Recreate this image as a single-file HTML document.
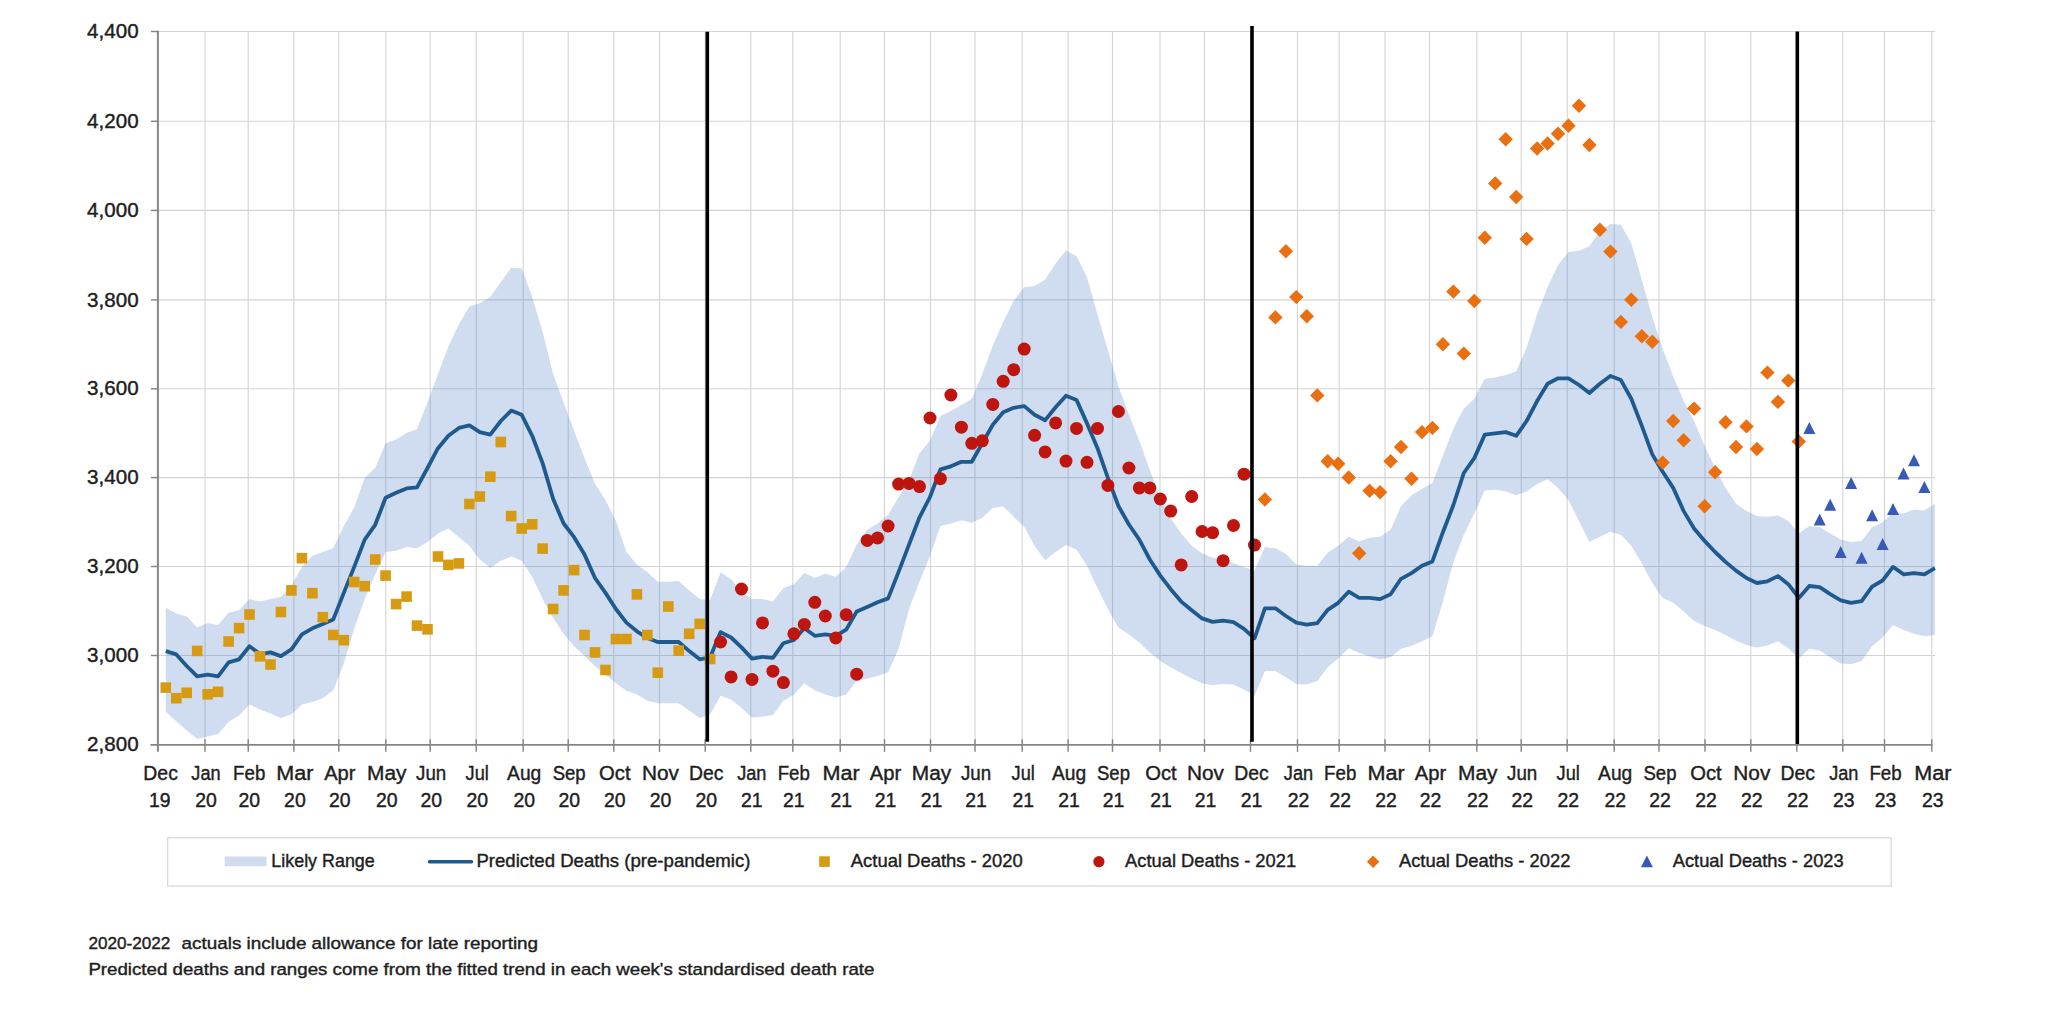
<!DOCTYPE html>
<html lang="en"><head><meta charset="utf-8"><title>Weekly deaths: actual vs predicted</title>
<style>html,body{margin:0;padding:0;background:#fff}body{width:2048px;height:1009px;overflow:hidden}svg{display:block}text{font-family:"Liberation Sans",sans-serif;fill:#1e1e1e;stroke:#1e1e1e;stroke-width:0.4px}</style></head><body>
<svg width="2048" height="1009" viewBox="0 0 2048 1009">
<rect width="2048" height="1009" fill="#fff"/>
<g stroke="#d3d3d3" stroke-width="1.1" fill="none">
<line x1="157.9" y1="31.5" x2="1935.3" y2="31.5"/>
<line x1="157.9" y1="121.3" x2="1935.3" y2="121.3"/>
<line x1="157.9" y1="210.4" x2="1935.3" y2="210.4"/>
<line x1="157.9" y1="299.9" x2="1935.3" y2="299.9"/>
<line x1="157.9" y1="388.8" x2="1935.3" y2="388.8"/>
<line x1="157.9" y1="477.6" x2="1935.3" y2="477.6"/>
<line x1="157.9" y1="566.5" x2="1935.3" y2="566.5"/>
<line x1="157.9" y1="655.5" x2="1935.3" y2="655.5"/>
<line x1="205" y1="31.5" x2="205" y2="744.8"/>
<line x1="248.2" y1="31.5" x2="248.2" y2="744.8"/>
<line x1="293.9" y1="31.5" x2="293.9" y2="744.8"/>
<line x1="338.8" y1="31.5" x2="338.8" y2="744.8"/>
<line x1="385.8" y1="31.5" x2="385.8" y2="744.8"/>
<line x1="430.2" y1="31.5" x2="430.2" y2="744.8"/>
<line x1="476.2" y1="31.5" x2="476.2" y2="744.8"/>
<line x1="523.2" y1="31.5" x2="523.2" y2="744.8"/>
<line x1="568.2" y1="31.5" x2="568.2" y2="744.8"/>
<line x1="613.8" y1="31.5" x2="613.8" y2="744.8"/>
<line x1="659.5" y1="31.5" x2="659.5" y2="744.8"/>
<line x1="705.2" y1="31.5" x2="705.2" y2="744.8"/>
<line x1="750.8" y1="31.5" x2="750.8" y2="744.8"/>
<line x1="792.8" y1="31.5" x2="792.8" y2="744.8"/>
<line x1="840.2" y1="31.5" x2="840.2" y2="744.8"/>
<line x1="884.5" y1="31.5" x2="884.5" y2="744.8"/>
<line x1="930.5" y1="31.5" x2="930.5" y2="744.8"/>
<line x1="975" y1="31.5" x2="975" y2="744.8"/>
<line x1="1022.2" y1="31.5" x2="1022.2" y2="744.8"/>
<line x1="1068.1" y1="31.5" x2="1068.1" y2="744.8"/>
<line x1="1112.5" y1="31.5" x2="1112.5" y2="744.8"/>
<line x1="1160" y1="31.5" x2="1160" y2="744.8"/>
<line x1="1204.5" y1="31.5" x2="1204.5" y2="744.8"/>
<line x1="1250.5" y1="31.5" x2="1250.5" y2="744.8"/>
<line x1="1297.5" y1="31.5" x2="1297.5" y2="744.8"/>
<line x1="1339.2" y1="31.5" x2="1339.2" y2="744.8"/>
<line x1="1385" y1="31.5" x2="1385" y2="744.8"/>
<line x1="1429.5" y1="31.5" x2="1429.5" y2="744.8"/>
<line x1="1476.8" y1="31.5" x2="1476.8" y2="744.8"/>
<line x1="1521.2" y1="31.5" x2="1521.2" y2="744.8"/>
<line x1="1567.2" y1="31.5" x2="1567.2" y2="744.8"/>
<line x1="1614.2" y1="31.5" x2="1614.2" y2="744.8"/>
<line x1="1659" y1="31.5" x2="1659" y2="744.8"/>
<line x1="1705" y1="31.5" x2="1705" y2="744.8"/>
<line x1="1750.8" y1="31.5" x2="1750.8" y2="744.8"/>
<line x1="1796.8" y1="31.5" x2="1796.8" y2="744.8"/>
<line x1="1842.8" y1="31.5" x2="1842.8" y2="744.8"/>
<line x1="1884.5" y1="31.5" x2="1884.5" y2="744.8"/>
<line x1="1931.8" y1="31.5" x2="1931.8" y2="744.8"/>
</g>
<polygon points="165.8,607.8 176.3,613.5 186.7,616.5 197.2,627.6 207.7,623.1 218.1,625.1 228.6,612.7 239.1,610.3 249.5,599.1 260,601.6 270.5,599.1 280.9,597.1 291.4,585.5 301.9,566.9 312.4,555.8 322.8,552 333.3,548.3 343.8,526 354.2,507.4 364.7,478 375.2,468 385.6,443.3 396.1,439.5 406.6,432.9 417,428.9 427.5,402.4 438,373.9 448.4,346.6 458.9,324.3 469.4,306.5 479.8,303.3 490.3,297.1 500.8,282.2 511.2,267.8 521.7,268.6 532.2,297.1 542.6,331.8 553.1,373.9 563.6,402.4 574.1,430.9 584.5,458.1 595,484.1 605.5,500 615.9,521.1 626.4,552 636.9,564.4 647.3,572.1 657.8,581.8 668.3,581.8 678.7,581 689.2,590.4 699.7,599.1 710.1,600.3 720.6,572.3 731.1,579.3 741.5,591.7 752,599.1 762.5,599.1 772.9,601.6 783.4,588 793.9,584.2 804.3,573.1 814.8,578 825.3,573.8 835.8,576.8 846.2,566.9 856.7,544.6 867.2,529.7 877.6,523.5 888.1,514.9 898.6,497 909,480.4 919.5,453.2 930,440.8 940.4,416 950.9,411 961.4,404.9 971.8,398.7 982.3,373.9 992.8,345.4 1003.2,321.9 1013.7,300.8 1024.2,287.2 1034.6,285.9 1045.1,279.7 1055.6,263.6 1066,250.5 1076.5,256.2 1087,277.3 1097.5,314.4 1107.9,350.3 1118.4,386.3 1128.9,414.8 1139.3,440.8 1149.8,470 1160.3,497 1170.7,518.6 1181.2,533.4 1191.7,545.8 1202.1,553.3 1212.6,557.7 1223.1,559.5 1233.5,563.2 1244,566.9 1254.5,570.6 1264.9,547.1 1275.4,548.3 1285.9,554 1296.3,564.4 1306.8,565.7 1317.3,565.7 1327.7,552.8 1338.2,545.8 1348.7,536.7 1359.2,541.6 1369.6,537.7 1380.1,536.7 1390.6,529.7 1401,506.2 1411.5,495.3 1422,489.1 1432.4,482.9 1442.9,455.7 1453.4,428.4 1463.8,408.6 1474.3,398.7 1484.8,378.8 1495.2,377.6 1505.7,375.1 1516.2,371.4 1526.6,347.9 1537.1,314.4 1547.6,287.2 1558,265 1568.5,252 1579,250.8 1589.4,246.3 1599.9,231 1610.4,224 1620.9,224.8 1631.3,243.3 1641.8,280 1652.3,316.9 1662.7,349.1 1673.2,376.4 1683.7,401.1 1694.1,421 1704.6,445.7 1715.1,468 1725.5,487.9 1736,503.7 1746.5,511.1 1756.9,516.1 1767.4,516.8 1777.9,515.4 1788.3,521.1 1798.8,533.4 1809.3,526 1819.7,527.3 1830.2,533.4 1840.7,539.6 1851.1,542.1 1861.6,540.9 1872.1,527.3 1882.6,522.3 1893,512.4 1903.5,513.6 1914,509.4 1924.4,510.4 1934.9,503.7 1934.9,635 1924.4,636.3 1914,633.8 1903.5,630.1 1893,625.1 1882.6,637.5 1872.1,646.2 1861.6,661.1 1851.1,664 1840.7,663.5 1830.2,657.3 1819.7,650.6 1809.3,648.7 1798.8,658.6 1788.3,648.2 1777.9,641.2 1767.4,645.4 1756.9,647.4 1746.5,644.9 1736,640.7 1725.5,635 1715.1,630.1 1704.6,625.9 1694.1,620.9 1683.7,611.5 1673.2,602.8 1662.7,597.9 1652.3,583 1641.8,563.2 1631.3,545.8 1620.9,534.7 1610.4,531.7 1599.9,536.7 1589.4,542.1 1579,521.1 1568.5,500 1558,487.9 1547.6,479.2 1537.1,484.1 1526.6,491.6 1516.2,495.3 1505.7,491.6 1495.2,489.8 1484.8,490.3 1474.3,513.6 1463.8,534.7 1453.4,561.9 1442.9,601.6 1432.4,636.3 1422,641.2 1411.5,645.7 1401,648.7 1390.6,657.3 1380.1,659.3 1369.6,656.6 1359.2,653.1 1348.7,648.2 1338.2,658.6 1327.7,667.2 1317.3,680.9 1306.8,684.6 1296.3,684.1 1285.9,677.2 1275.4,671 1264.9,671 1254.5,695.7 1244,689.5 1233.5,684.6 1223.1,684.1 1212.6,685.3 1202.1,683.3 1191.7,678.4 1181.2,672.9 1170.7,667.2 1160.3,661.1 1149.8,652.4 1139.3,642.5 1128.9,634.5 1118.4,627.6 1107.9,609 1097.5,588 1087,565.7 1076.5,549.6 1066,545.1 1055.6,552 1045.1,560.2 1034.6,545.8 1024.2,526.8 1013.7,516.8 1003.2,506.2 992.8,507.9 982.3,517.8 971.8,522.8 961.4,520.3 950.9,523.5 940.4,526 930,555.7 919.5,581.8 909,609 898.6,648.7 888.1,672.2 877.6,675.9 867.2,678.4 856.7,680.9 846.2,694.5 835.8,697.5 825.3,694.5 814.8,690.3 804.3,683.3 793.9,694.5 783.4,700.7 772.9,715.1 762.5,716.8 752,717.5 741.5,708.1 731.1,699.5 720.6,695.7 710.1,714.3 699.7,718 689.2,710.6 678.7,703.2 668.3,703.2 657.8,703.2 647.3,700.7 636.9,694.5 626.4,690.8 615.9,683.3 605.5,674.7 595,666 584.5,656.1 574.1,646.2 563.6,633.8 553.1,617.7 542.6,599.1 532.2,576.8 521.7,560.7 511.2,556.5 500.8,560.7 490.3,568.1 479.8,559.5 469.4,545.8 458.9,537.2 448.4,528.5 438,533.4 427.5,542.1 417,548.3 406.6,547.1 396.1,550.8 385.6,552 375.2,574.3 364.7,599.1 354.2,628.8 343.8,663.5 333.3,690.3 322.8,698.2 312.4,701.9 301.9,704.4 291.4,714.3 280.9,718 270.5,713.6 260,709.4 249.5,704.4 239.1,715.6 228.6,721.8 218.1,734.1 207.7,736.6 197.2,739.1 186.7,730.4 176.3,721.3 165.8,711.8" fill="#4472c4" fill-opacity="0.25"/>
<g stroke="#858585" stroke-width="1.45" fill="none">
<line x1="157.9" y1="30.7" x2="157.9" y2="751.8" stroke-width="2.1" stroke="#8c8c8c"/>
<line x1="150.4" y1="744.8" x2="1932.3" y2="744.8" stroke-width="1.8"/>
<line x1="150.9" y1="31.5" x2="157.9" y2="31.5"/>
<line x1="150.9" y1="121.3" x2="157.9" y2="121.3"/>
<line x1="150.9" y1="210.4" x2="157.9" y2="210.4"/>
<line x1="150.9" y1="299.9" x2="157.9" y2="299.9"/>
<line x1="150.9" y1="388.8" x2="157.9" y2="388.8"/>
<line x1="150.9" y1="477.6" x2="157.9" y2="477.6"/>
<line x1="150.9" y1="566.5" x2="157.9" y2="566.5"/>
<line x1="150.9" y1="655.5" x2="157.9" y2="655.5"/>
<line x1="205" y1="739.3" x2="205" y2="751.8"/>
<line x1="248.2" y1="739.3" x2="248.2" y2="751.8"/>
<line x1="293.9" y1="739.3" x2="293.9" y2="751.8"/>
<line x1="338.8" y1="739.3" x2="338.8" y2="751.8"/>
<line x1="385.8" y1="739.3" x2="385.8" y2="751.8"/>
<line x1="430.2" y1="739.3" x2="430.2" y2="751.8"/>
<line x1="476.2" y1="739.3" x2="476.2" y2="751.8"/>
<line x1="523.2" y1="739.3" x2="523.2" y2="751.8"/>
<line x1="568.2" y1="739.3" x2="568.2" y2="751.8"/>
<line x1="613.8" y1="739.3" x2="613.8" y2="751.8"/>
<line x1="659.5" y1="739.3" x2="659.5" y2="751.8"/>
<line x1="705.2" y1="739.3" x2="705.2" y2="751.8"/>
<line x1="750.8" y1="739.3" x2="750.8" y2="751.8"/>
<line x1="792.8" y1="739.3" x2="792.8" y2="751.8"/>
<line x1="840.2" y1="739.3" x2="840.2" y2="751.8"/>
<line x1="884.5" y1="739.3" x2="884.5" y2="751.8"/>
<line x1="930.5" y1="739.3" x2="930.5" y2="751.8"/>
<line x1="975" y1="739.3" x2="975" y2="751.8"/>
<line x1="1022.2" y1="739.3" x2="1022.2" y2="751.8"/>
<line x1="1068.1" y1="739.3" x2="1068.1" y2="751.8"/>
<line x1="1112.5" y1="739.3" x2="1112.5" y2="751.8"/>
<line x1="1160" y1="739.3" x2="1160" y2="751.8"/>
<line x1="1204.5" y1="739.3" x2="1204.5" y2="751.8"/>
<line x1="1250.5" y1="739.3" x2="1250.5" y2="751.8"/>
<line x1="1297.5" y1="739.3" x2="1297.5" y2="751.8"/>
<line x1="1339.2" y1="739.3" x2="1339.2" y2="751.8"/>
<line x1="1385" y1="739.3" x2="1385" y2="751.8"/>
<line x1="1429.5" y1="739.3" x2="1429.5" y2="751.8"/>
<line x1="1476.8" y1="739.3" x2="1476.8" y2="751.8"/>
<line x1="1521.2" y1="739.3" x2="1521.2" y2="751.8"/>
<line x1="1567.2" y1="739.3" x2="1567.2" y2="751.8"/>
<line x1="1614.2" y1="739.3" x2="1614.2" y2="751.8"/>
<line x1="1659" y1="739.3" x2="1659" y2="751.8"/>
<line x1="1705" y1="739.3" x2="1705" y2="751.8"/>
<line x1="1750.8" y1="739.3" x2="1750.8" y2="751.8"/>
<line x1="1796.8" y1="739.3" x2="1796.8" y2="751.8"/>
<line x1="1842.8" y1="739.3" x2="1842.8" y2="751.8"/>
<line x1="1884.5" y1="739.3" x2="1884.5" y2="751.8"/>
<line x1="1931.8" y1="739.3" x2="1931.8" y2="751.8"/>
</g>
<polyline fill="none" stroke="#1f5a8e" stroke-width="3.8" stroke-linejoin="round" stroke-linecap="butt" points="165.8,651.1 176.3,654.4 186.7,666 197.2,676.4 207.7,674.7 218.1,676.4 228.6,662.3 239.1,659.3 249.5,646.2 260,654.1 270.5,652.4 280.9,656.1 291.4,649.4 301.9,634.3 312.4,628.3 322.8,623.9 333.3,619.4 343.8,592.9 354.2,566.9 364.7,539.6 375.2,524.8 385.6,497.8 396.1,492.8 406.6,488.4 417,487.4 427.5,468 438,448.2 448.4,435.8 458.9,427.9 469.4,425.4 479.8,432.1 490.3,434.6 500.8,421 511.2,410.6 521.7,414.8 532.2,435.8 542.6,463.1 553.1,498.8 563.6,523.5 574.1,537.2 584.5,554.5 595,578 605.5,592.9 615.9,609 626.4,622.6 636.9,631.3 647.3,638 657.8,642 668.3,642 678.7,642 689.2,651.1 699.7,659.3 710.1,657.3 720.6,632.1 731.1,637.5 741.5,647.4 752,658.6 762.5,656.8 772.9,657.8 783.4,643.2 793.9,640 804.3,628.3 814.8,635.8 825.3,634.3 835.8,635.8 846.2,629.6 856.7,611.5 867.2,607 877.6,602.3 888.1,598.4 898.6,571.9 909,544.6 919.5,517.3 930,497 940.4,469.3 950.9,466.3 961.4,461.8 971.8,461.8 982.3,443.3 992.8,424.7 1003.2,412.3 1013.7,407.8 1024.2,406.1 1034.6,414.8 1045.1,420.2 1055.6,407.3 1066,395.7 1076.5,399.9 1087,423.4 1097.5,448.2 1107.9,477.9 1118.4,506 1128.9,524.5 1139.3,539.6 1149.8,559.5 1160.3,575.6 1170.7,589.2 1181.2,601.6 1191.7,610.3 1202.1,618.4 1212.6,621.9 1223.1,620.7 1233.5,622.2 1244,628.8 1254.5,638.3 1264.9,608.3 1275.4,608.3 1285.9,616 1296.3,622.6 1306.8,624.6 1317.3,623.1 1327.7,609.8 1338.2,602.8 1348.7,591.7 1359.2,597.9 1369.6,597.9 1380.1,599.1 1390.6,594.2 1401,578.8 1411.5,573.1 1422,565.7 1432.4,561.4 1442.9,532.2 1453.4,505 1463.8,473 1474.3,458.1 1484.8,434.6 1495.2,433.4 1505.7,432.1 1516.2,435.8 1526.6,421 1537.1,401.1 1547.6,383.8 1558,378.3 1568.5,378.3 1579,385 1589.4,393 1599.9,383.8 1610.4,375.9 1620.9,380.1 1631.3,398.7 1641.8,425.9 1652.3,454.4 1662.7,471.8 1673.2,487.9 1683.7,511.1 1694.1,528.5 1704.6,540.9 1715.1,552 1725.5,561.9 1736,570.6 1746.5,578 1756.9,583 1767.4,581.3 1777.9,576.1 1788.3,584.2 1798.8,597.9 1809.3,586 1819.7,587.2 1830.2,594.2 1840.7,600.3 1851.1,602.8 1861.6,601.1 1872.1,586.7 1882.6,580.5 1893,566.9 1903.5,574.3 1914,573.1 1924.4,574.3 1934.9,568.1"/>
<g fill="#d69b12">
<rect x="160.5" y="682.3" width="10.6" height="10.6"/>
<rect x="171" y="692.9" width="10.6" height="10.6"/>
<rect x="181.4" y="687.5" width="10.6" height="10.6"/>
<rect x="191.9" y="645.6" width="10.6" height="10.6"/>
<rect x="202.4" y="689" width="10.6" height="10.6"/>
<rect x="212.8" y="686.5" width="10.6" height="10.6"/>
<rect x="223.3" y="636.2" width="10.6" height="10.6"/>
<rect x="233.8" y="622.8" width="10.6" height="10.6"/>
<rect x="244.2" y="609.2" width="10.6" height="10.6"/>
<rect x="254.7" y="651" width="10.6" height="10.6"/>
<rect x="265.2" y="659.2" width="10.6" height="10.6"/>
<rect x="275.6" y="606.7" width="10.6" height="10.6"/>
<rect x="286.1" y="585.1" width="10.6" height="10.6"/>
<rect x="296.6" y="552.9" width="10.6" height="10.6"/>
<rect x="307.1" y="587.9" width="10.6" height="10.6"/>
<rect x="317.5" y="611.9" width="10.6" height="10.6"/>
<rect x="328" y="629.7" width="10.6" height="10.6"/>
<rect x="338.5" y="634.9" width="10.6" height="10.6"/>
<rect x="348.9" y="576.7" width="10.6" height="10.6"/>
<rect x="359.4" y="580.9" width="10.6" height="10.6"/>
<rect x="369.9" y="554.2" width="10.6" height="10.6"/>
<rect x="380.3" y="570.3" width="10.6" height="10.6"/>
<rect x="390.8" y="598.8" width="10.6" height="10.6"/>
<rect x="401.3" y="591.3" width="10.6" height="10.6"/>
<rect x="411.7" y="620.3" width="10.6" height="10.6"/>
<rect x="422.2" y="624" width="10.6" height="10.6"/>
<rect x="432.7" y="551.2" width="10.6" height="10.6"/>
<rect x="443.1" y="559.6" width="10.6" height="10.6"/>
<rect x="453.6" y="558.1" width="10.6" height="10.6"/>
<rect x="464.1" y="498.7" width="10.6" height="10.6"/>
<rect x="474.5" y="491.2" width="10.6" height="10.6"/>
<rect x="485" y="471.4" width="10.6" height="10.6"/>
<rect x="495.5" y="436.7" width="10.6" height="10.6"/>
<rect x="505.9" y="510.8" width="10.6" height="10.6"/>
<rect x="516.4" y="523.2" width="10.6" height="10.6"/>
<rect x="526.9" y="519" width="10.6" height="10.6"/>
<rect x="537.3" y="543.3" width="10.6" height="10.6"/>
<rect x="547.8" y="603.7" width="10.6" height="10.6"/>
<rect x="558.3" y="585.1" width="10.6" height="10.6"/>
<rect x="568.8" y="564.8" width="10.6" height="10.6"/>
<rect x="579.2" y="629.7" width="10.6" height="10.6"/>
<rect x="589.7" y="647.1" width="10.6" height="10.6"/>
<rect x="600.2" y="664.7" width="10.6" height="10.6"/>
<rect x="610.6" y="633.7" width="10.6" height="10.6"/>
<rect x="621.1" y="633.7" width="10.6" height="10.6"/>
<rect x="631.6" y="589.1" width="10.6" height="10.6"/>
<rect x="642" y="629.7" width="10.6" height="10.6"/>
<rect x="652.5" y="667.4" width="10.6" height="10.6"/>
<rect x="663" y="601.2" width="10.6" height="10.6"/>
<rect x="673.4" y="645.3" width="10.6" height="10.6"/>
<rect x="683.9" y="628.5" width="10.6" height="10.6"/>
<rect x="694.4" y="618.6" width="10.6" height="10.6"/>
<rect x="704.8" y="653.7" width="10.6" height="10.6"/>
</g><g fill="#be150f">
<circle cx="720.6" cy="642" r="6.5"/>
<circle cx="731.1" cy="676.9" r="6.5"/>
<circle cx="741.5" cy="589" r="6.5"/>
<circle cx="752" cy="679.4" r="6.5"/>
<circle cx="762.5" cy="622.9" r="6.5"/>
<circle cx="772.9" cy="671.2" r="6.5"/>
<circle cx="783.4" cy="682.6" r="6.5"/>
<circle cx="793.9" cy="633.8" r="6.5"/>
<circle cx="804.3" cy="624.4" r="6.5"/>
<circle cx="814.8" cy="602.3" r="6.5"/>
<circle cx="825.3" cy="616" r="6.5"/>
<circle cx="835.8" cy="638" r="6.5"/>
<circle cx="846.2" cy="614.7" r="6.5"/>
<circle cx="856.7" cy="674.2" r="6.5"/>
<circle cx="867.2" cy="540.4" r="6.5"/>
<circle cx="877.6" cy="537.9" r="6.5"/>
<circle cx="888.1" cy="526" r="6.5"/>
<circle cx="898.6" cy="484.1" r="6.5"/>
<circle cx="909" cy="483.4" r="6.5"/>
<circle cx="919.5" cy="486.6" r="6.5"/>
<circle cx="930" cy="418" r="6.5"/>
<circle cx="940.4" cy="478.7" r="6.5"/>
<circle cx="950.9" cy="395" r="6.5"/>
<circle cx="961.4" cy="427.2" r="6.5"/>
<circle cx="971.8" cy="443.3" r="6.5"/>
<circle cx="982.3" cy="440.8" r="6.5"/>
<circle cx="992.8" cy="404.4" r="6.5"/>
<circle cx="1003.2" cy="381.3" r="6.5"/>
<circle cx="1013.7" cy="369.7" r="6.5"/>
<circle cx="1024.2" cy="349.1" r="6.5"/>
<circle cx="1034.6" cy="435.3" r="6.5"/>
<circle cx="1045.1" cy="451.9" r="6.5"/>
<circle cx="1055.6" cy="422.9" r="6.5"/>
<circle cx="1066" cy="461.1" r="6.5"/>
<circle cx="1076.5" cy="428.4" r="6.5"/>
<circle cx="1087" cy="462.3" r="6.5"/>
<circle cx="1097.5" cy="428.4" r="6.5"/>
<circle cx="1107.9" cy="485.4" r="6.5"/>
<circle cx="1118.4" cy="411.5" r="6.5"/>
<circle cx="1128.9" cy="468" r="6.5"/>
<circle cx="1139.3" cy="487.9" r="6.5"/>
<circle cx="1149.8" cy="487.9" r="6.5"/>
<circle cx="1160.3" cy="499" r="6.5"/>
<circle cx="1170.7" cy="511.1" r="6.5"/>
<circle cx="1181.2" cy="564.9" r="6.5"/>
<circle cx="1191.7" cy="496.5" r="6.5"/>
<circle cx="1202.1" cy="531.5" r="6.5"/>
<circle cx="1212.6" cy="532.7" r="6.5"/>
<circle cx="1223.1" cy="560.7" r="6.5"/>
<circle cx="1233.5" cy="525.5" r="6.5"/>
<circle cx="1244" cy="474.2" r="6.5"/>
<circle cx="1254.5" cy="545.1" r="6.5"/>
</g><g fill="#ea6f10">
<path d="M1264.9 492.3l7.2 7.2l-7.2 7.2l-7.2 -7.2z"/>
<path d="M1275.4 310.2l7.2 7.2l-7.2 7.2l-7.2 -7.2z"/>
<path d="M1285.9 244l7.2 7.2l-7.2 7.2l-7.2 -7.2z"/>
<path d="M1296.3 289.9l7.2 7.2l-7.2 7.2l-7.2 -7.2z"/>
<path d="M1306.8 309l7.2 7.2l-7.2 7.2l-7.2 -7.2z"/>
<path d="M1317.3 388.2l7.2 7.2l-7.2 7.2l-7.2 -7.2z"/>
<path d="M1327.7 454.1l7.2 7.2l-7.2 7.2l-7.2 -7.2z"/>
<path d="M1338.2 456.6l7.2 7.2l-7.2 7.2l-7.2 -7.2z"/>
<path d="M1348.7 470.3l7.2 7.2l-7.2 7.2l-7.2 -7.2z"/>
<path d="M1359.2 546.1l7.2 7.2l-7.2 7.2l-7.2 -7.2z"/>
<path d="M1369.6 483.6l7.2 7.2l-7.2 7.2l-7.2 -7.2z"/>
<path d="M1380.1 485.1l7.2 7.2l-7.2 7.2l-7.2 -7.2z"/>
<path d="M1390.6 454.1l7.2 7.2l-7.2 7.2l-7.2 -7.2z"/>
<path d="M1401 439.8l7.2 7.2l-7.2 7.2l-7.2 -7.2z"/>
<path d="M1411.5 471.5l7.2 7.2l-7.2 7.2l-7.2 -7.2z"/>
<path d="M1422 424.9l7.2 7.2l-7.2 7.2l-7.2 -7.2z"/>
<path d="M1432.4 420.7l7.2 7.2l-7.2 7.2l-7.2 -7.2z"/>
<path d="M1442.9 337l7.2 7.2l-7.2 7.2l-7.2 -7.2z"/>
<path d="M1453.4 284.4l7.2 7.2l-7.2 7.2l-7.2 -7.2z"/>
<path d="M1463.8 346.4l7.2 7.2l-7.2 7.2l-7.2 -7.2z"/>
<path d="M1474.3 293.8l7.2 7.2l-7.2 7.2l-7.2 -7.2z"/>
<path d="M1484.8 230.5l7.2 7.2l-7.2 7.2l-7.2 -7.2z"/>
<path d="M1495.2 176.2l7.2 7.2l-7.2 7.2l-7.2 -7.2z"/>
<path d="M1505.7 132.1l7.2 7.2l-7.2 7.2l-7.2 -7.2z"/>
<path d="M1516.2 189.8l7.2 7.2l-7.2 7.2l-7.2 -7.2z"/>
<path d="M1526.6 231.7l7.2 7.2l-7.2 7.2l-7.2 -7.2z"/>
<path d="M1537.1 141.3l7.2 7.2l-7.2 7.2l-7.2 -7.2z"/>
<path d="M1547.6 136.3l7.2 7.2l-7.2 7.2l-7.2 -7.2z"/>
<path d="M1558 126.6l7.2 7.2l-7.2 7.2l-7.2 -7.2z"/>
<path d="M1568.5 118.5l7.2 7.2l-7.2 7.2l-7.2 -7.2z"/>
<path d="M1579 98.6l7.2 7.2l-7.2 7.2l-7.2 -7.2z"/>
<path d="M1589.4 137.8l7.2 7.2l-7.2 7.2l-7.2 -7.2z"/>
<path d="M1599.9 222.5l7.2 7.2l-7.2 7.2l-7.2 -7.2z"/>
<path d="M1610.4 244.4l7.2 7.2l-7.2 7.2l-7.2 -7.2z"/>
<path d="M1620.9 314.7l7.2 7.2l-7.2 7.2l-7.2 -7.2z"/>
<path d="M1631.3 292.6l7.2 7.2l-7.2 7.2l-7.2 -7.2z"/>
<path d="M1641.8 329l7.2 7.2l-7.2 7.2l-7.2 -7.2z"/>
<path d="M1652.3 334.5l7.2 7.2l-7.2 7.2l-7.2 -7.2z"/>
<path d="M1662.7 455.4l7.2 7.2l-7.2 7.2l-7.2 -7.2z"/>
<path d="M1673.2 413.8l7.2 7.2l-7.2 7.2l-7.2 -7.2z"/>
<path d="M1683.7 433.1l7.2 7.2l-7.2 7.2l-7.2 -7.2z"/>
<path d="M1694.1 401.4l7.2 7.2l-7.2 7.2l-7.2 -7.2z"/>
<path d="M1704.6 499l7.2 7.2l-7.2 7.2l-7.2 -7.2z"/>
<path d="M1715.1 465l7.2 7.2l-7.2 7.2l-7.2 -7.2z"/>
<path d="M1725.5 415l7.2 7.2l-7.2 7.2l-7.2 -7.2z"/>
<path d="M1736 439.8l7.2 7.2l-7.2 7.2l-7.2 -7.2z"/>
<path d="M1746.5 419.2l7.2 7.2l-7.2 7.2l-7.2 -7.2z"/>
<path d="M1756.9 441.8l7.2 7.2l-7.2 7.2l-7.2 -7.2z"/>
<path d="M1767.4 365.4l7.2 7.2l-7.2 7.2l-7.2 -7.2z"/>
<path d="M1777.9 394.7l7.2 7.2l-7.2 7.2l-7.2 -7.2z"/>
<path d="M1788.3 373.4l7.2 7.2l-7.2 7.2l-7.2 -7.2z"/>
<path d="M1798.8 434.3l7.2 7.2l-7.2 7.2l-7.2 -7.2z"/>
</g><g fill="#3759b7">
<path d="M1809.3 421.9l6 12h-12z"/>
<path d="M1819.7 513.5l6 12h-12z"/>
<path d="M1830.2 498.7l6 12h-12z"/>
<path d="M1840.7 546l6 12h-12z"/>
<path d="M1851.1 477.1l6 12h-12z"/>
<path d="M1861.6 551.7l6 12h-12z"/>
<path d="M1872.1 509.3l6 12h-12z"/>
<path d="M1882.6 538.1l6 12h-12z"/>
<path d="M1893 503l6 12h-12z"/>
<path d="M1903.5 467.5l6 12h-12z"/>
<path d="M1914 454.3l6 12h-12z"/>
<path d="M1924.4 481.1l6 12h-12z"/>
</g>
<g stroke="#000" stroke-width="3.6">
<line x1="707.3" y1="31.8" x2="707.3" y2="741.8"/>
<line x1="1252" y1="26" x2="1252" y2="741.8"/>
<line x1="1797.3" y1="31.5" x2="1797.3" y2="744"/>
</g>
<g font-size="20" text-anchor="end">
<text x="138.6" y="38.1" textLength="51.5" lengthAdjust="spacingAndGlyphs">4,400</text>
<text x="138.6" y="127.9" textLength="51.5" lengthAdjust="spacingAndGlyphs">4,200</text>
<text x="138.6" y="217" textLength="51.5" lengthAdjust="spacingAndGlyphs">4,000</text>
<text x="138.6" y="306.5" textLength="51.5" lengthAdjust="spacingAndGlyphs">3,800</text>
<text x="138.6" y="395.4" textLength="51.5" lengthAdjust="spacingAndGlyphs">3,600</text>
<text x="138.6" y="484.2" textLength="51.5" lengthAdjust="spacingAndGlyphs">3,400</text>
<text x="138.6" y="573.1" textLength="51.5" lengthAdjust="spacingAndGlyphs">3,200</text>
<text x="138.6" y="662.1" textLength="51.5" lengthAdjust="spacingAndGlyphs">3,000</text>
<text x="138.6" y="751.4" textLength="51.5" lengthAdjust="spacingAndGlyphs">2,800</text>
</g>
<g font-size="20" text-anchor="middle">
<text x="160.6" y="780.2" textLength="34.5" lengthAdjust="spacingAndGlyphs">Dec</text>
<text x="159.8" y="807.3" textLength="21.6" lengthAdjust="spacingAndGlyphs">19</text>
<text x="206" y="780.2" textLength="29.3" lengthAdjust="spacingAndGlyphs">Jan</text>
<text x="206" y="807.3" textLength="21.6" lengthAdjust="spacingAndGlyphs">20</text>
<text x="249.2" y="780.2" textLength="32.2" lengthAdjust="spacingAndGlyphs">Feb</text>
<text x="249.2" y="807.3" textLength="21.6" lengthAdjust="spacingAndGlyphs">20</text>
<text x="294.9" y="780.2" textLength="37.2" lengthAdjust="spacingAndGlyphs">Mar</text>
<text x="294.9" y="807.3" textLength="21.6" lengthAdjust="spacingAndGlyphs">20</text>
<text x="339.8" y="780.2" textLength="31.3" lengthAdjust="spacingAndGlyphs">Apr</text>
<text x="339.8" y="807.3" textLength="21.6" lengthAdjust="spacingAndGlyphs">20</text>
<text x="386.8" y="780.2" textLength="39.5" lengthAdjust="spacingAndGlyphs">May</text>
<text x="386.8" y="807.3" textLength="21.6" lengthAdjust="spacingAndGlyphs">20</text>
<text x="431.2" y="780.2" textLength="30.2" lengthAdjust="spacingAndGlyphs">Jun</text>
<text x="431.2" y="807.3" textLength="21.6" lengthAdjust="spacingAndGlyphs">20</text>
<text x="477.2" y="780.2" textLength="23.2" lengthAdjust="spacingAndGlyphs">Jul</text>
<text x="477.2" y="807.3" textLength="21.6" lengthAdjust="spacingAndGlyphs">20</text>
<text x="524.2" y="780.2" textLength="34.2" lengthAdjust="spacingAndGlyphs">Aug</text>
<text x="524.2" y="807.3" textLength="21.6" lengthAdjust="spacingAndGlyphs">20</text>
<text x="569.2" y="780.2" textLength="33" lengthAdjust="spacingAndGlyphs">Sep</text>
<text x="569.2" y="807.3" textLength="21.6" lengthAdjust="spacingAndGlyphs">20</text>
<text x="614.8" y="780.2" textLength="31.5" lengthAdjust="spacingAndGlyphs">Oct</text>
<text x="614.8" y="807.3" textLength="21.6" lengthAdjust="spacingAndGlyphs">20</text>
<text x="660.5" y="780.2" textLength="37" lengthAdjust="spacingAndGlyphs">Nov</text>
<text x="660.5" y="807.3" textLength="21.6" lengthAdjust="spacingAndGlyphs">20</text>
<text x="706.2" y="780.2" textLength="34.5" lengthAdjust="spacingAndGlyphs">Dec</text>
<text x="706.2" y="807.3" textLength="21.6" lengthAdjust="spacingAndGlyphs">20</text>
<text x="751.8" y="780.2" textLength="29.3" lengthAdjust="spacingAndGlyphs">Jan</text>
<text x="751.8" y="807.3" textLength="21.6" lengthAdjust="spacingAndGlyphs">21</text>
<text x="793.8" y="780.2" textLength="32.2" lengthAdjust="spacingAndGlyphs">Feb</text>
<text x="793.8" y="807.3" textLength="21.6" lengthAdjust="spacingAndGlyphs">21</text>
<text x="841.2" y="780.2" textLength="37.2" lengthAdjust="spacingAndGlyphs">Mar</text>
<text x="841.2" y="807.3" textLength="21.6" lengthAdjust="spacingAndGlyphs">21</text>
<text x="885.5" y="780.2" textLength="31.3" lengthAdjust="spacingAndGlyphs">Apr</text>
<text x="885.5" y="807.3" textLength="21.6" lengthAdjust="spacingAndGlyphs">21</text>
<text x="931.5" y="780.2" textLength="39.5" lengthAdjust="spacingAndGlyphs">May</text>
<text x="931.5" y="807.3" textLength="21.6" lengthAdjust="spacingAndGlyphs">21</text>
<text x="976" y="780.2" textLength="30.2" lengthAdjust="spacingAndGlyphs">Jun</text>
<text x="976" y="807.3" textLength="21.6" lengthAdjust="spacingAndGlyphs">21</text>
<text x="1023.2" y="780.2" textLength="23.2" lengthAdjust="spacingAndGlyphs">Jul</text>
<text x="1023.2" y="807.3" textLength="21.6" lengthAdjust="spacingAndGlyphs">21</text>
<text x="1069.1" y="780.2" textLength="34.2" lengthAdjust="spacingAndGlyphs">Aug</text>
<text x="1069.1" y="807.3" textLength="21.6" lengthAdjust="spacingAndGlyphs">21</text>
<text x="1113.5" y="780.2" textLength="33" lengthAdjust="spacingAndGlyphs">Sep</text>
<text x="1113.5" y="807.3" textLength="21.6" lengthAdjust="spacingAndGlyphs">21</text>
<text x="1161" y="780.2" textLength="31.5" lengthAdjust="spacingAndGlyphs">Oct</text>
<text x="1161" y="807.3" textLength="21.6" lengthAdjust="spacingAndGlyphs">21</text>
<text x="1205.5" y="780.2" textLength="37" lengthAdjust="spacingAndGlyphs">Nov</text>
<text x="1205.5" y="807.3" textLength="21.6" lengthAdjust="spacingAndGlyphs">21</text>
<text x="1251.5" y="780.2" textLength="34.5" lengthAdjust="spacingAndGlyphs">Dec</text>
<text x="1251.5" y="807.3" textLength="21.6" lengthAdjust="spacingAndGlyphs">21</text>
<text x="1298.5" y="780.2" textLength="29.3" lengthAdjust="spacingAndGlyphs">Jan</text>
<text x="1298.5" y="807.3" textLength="21.6" lengthAdjust="spacingAndGlyphs">22</text>
<text x="1340.2" y="780.2" textLength="32.2" lengthAdjust="spacingAndGlyphs">Feb</text>
<text x="1340.2" y="807.3" textLength="21.6" lengthAdjust="spacingAndGlyphs">22</text>
<text x="1386" y="780.2" textLength="37.2" lengthAdjust="spacingAndGlyphs">Mar</text>
<text x="1386" y="807.3" textLength="21.6" lengthAdjust="spacingAndGlyphs">22</text>
<text x="1430.5" y="780.2" textLength="31.3" lengthAdjust="spacingAndGlyphs">Apr</text>
<text x="1430.5" y="807.3" textLength="21.6" lengthAdjust="spacingAndGlyphs">22</text>
<text x="1477.8" y="780.2" textLength="39.5" lengthAdjust="spacingAndGlyphs">May</text>
<text x="1477.8" y="807.3" textLength="21.6" lengthAdjust="spacingAndGlyphs">22</text>
<text x="1522.2" y="780.2" textLength="30.2" lengthAdjust="spacingAndGlyphs">Jun</text>
<text x="1522.2" y="807.3" textLength="21.6" lengthAdjust="spacingAndGlyphs">22</text>
<text x="1568.2" y="780.2" textLength="23.2" lengthAdjust="spacingAndGlyphs">Jul</text>
<text x="1568.2" y="807.3" textLength="21.6" lengthAdjust="spacingAndGlyphs">22</text>
<text x="1615.2" y="780.2" textLength="34.2" lengthAdjust="spacingAndGlyphs">Aug</text>
<text x="1615.2" y="807.3" textLength="21.6" lengthAdjust="spacingAndGlyphs">22</text>
<text x="1660" y="780.2" textLength="33" lengthAdjust="spacingAndGlyphs">Sep</text>
<text x="1660" y="807.3" textLength="21.6" lengthAdjust="spacingAndGlyphs">22</text>
<text x="1706" y="780.2" textLength="31.5" lengthAdjust="spacingAndGlyphs">Oct</text>
<text x="1706" y="807.3" textLength="21.6" lengthAdjust="spacingAndGlyphs">22</text>
<text x="1751.8" y="780.2" textLength="37" lengthAdjust="spacingAndGlyphs">Nov</text>
<text x="1751.8" y="807.3" textLength="21.6" lengthAdjust="spacingAndGlyphs">22</text>
<text x="1797.8" y="780.2" textLength="34.5" lengthAdjust="spacingAndGlyphs">Dec</text>
<text x="1797.8" y="807.3" textLength="21.6" lengthAdjust="spacingAndGlyphs">22</text>
<text x="1843.8" y="780.2" textLength="29.3" lengthAdjust="spacingAndGlyphs">Jan</text>
<text x="1843.8" y="807.3" textLength="21.6" lengthAdjust="spacingAndGlyphs">23</text>
<text x="1885.5" y="780.2" textLength="32.2" lengthAdjust="spacingAndGlyphs">Feb</text>
<text x="1885.5" y="807.3" textLength="21.6" lengthAdjust="spacingAndGlyphs">23</text>
<text x="1932.8" y="780.2" textLength="37.2" lengthAdjust="spacingAndGlyphs">Mar</text>
<text x="1932.8" y="807.3" textLength="21.6" lengthAdjust="spacingAndGlyphs">23</text>
</g>
<rect x="167.6" y="837.8" width="1723.6" height="48.2" fill="#fff" stroke="#d9d9d9" stroke-width="1.3"/>
<rect x="224.7" y="856.5" width="41.8" height="9.8" fill="#4472c4" fill-opacity="0.25"/>
<line x1="429.4" y1="861.8" x2="471.6" y2="861.8" stroke="#1f5a8e" stroke-width="3.4" stroke-linecap="round"/>
<rect x="819.2" y="856.3" width="10.6" height="10.6" fill="#d69b12"/>
<circle cx="1098.9" cy="861.7" r="5.6" fill="#be150f"/>
<path d="M1373.1 855.5l6.2 6.2l-6.2 6.2l-6.2-6.2z" fill="#ea6f10"/>
<path d="M1646.9 855.6l6 11.6h-12z" fill="#3759b7"/>
<g font-size="17.8">
<text x="271.3" y="867.2" textLength="103.5" lengthAdjust="spacingAndGlyphs">Likely Range</text>
<text x="476.4" y="867.2" textLength="274" lengthAdjust="spacingAndGlyphs">Predicted Deaths (pre-pandemic)</text>
<text x="850.8" y="867.2" textLength="172" lengthAdjust="spacingAndGlyphs">Actual Deaths - 2020</text>
<text x="1125.1" y="867.2" textLength="171" lengthAdjust="spacingAndGlyphs">Actual Deaths - 2021</text>
<text x="1398.9" y="867.2" textLength="171.5" lengthAdjust="spacingAndGlyphs">Actual Deaths - 2022</text>
<text x="1672.7" y="867.2" textLength="171" lengthAdjust="spacingAndGlyphs">Actual Deaths - 2023</text>
</g>
<g font-size="16.8">
<text x="88.4" y="948.7" textLength="82" lengthAdjust="spacingAndGlyphs">2020-2022</text>
<text x="181.6" y="948.7" textLength="356.5" lengthAdjust="spacingAndGlyphs">actuals include allowance for late reporting</text>
<text x="88.4" y="974.6" textLength="786" lengthAdjust="spacingAndGlyphs">Predicted deaths and ranges come from the fitted trend in each week's standardised death rate</text>
</g>
</svg></body></html>
